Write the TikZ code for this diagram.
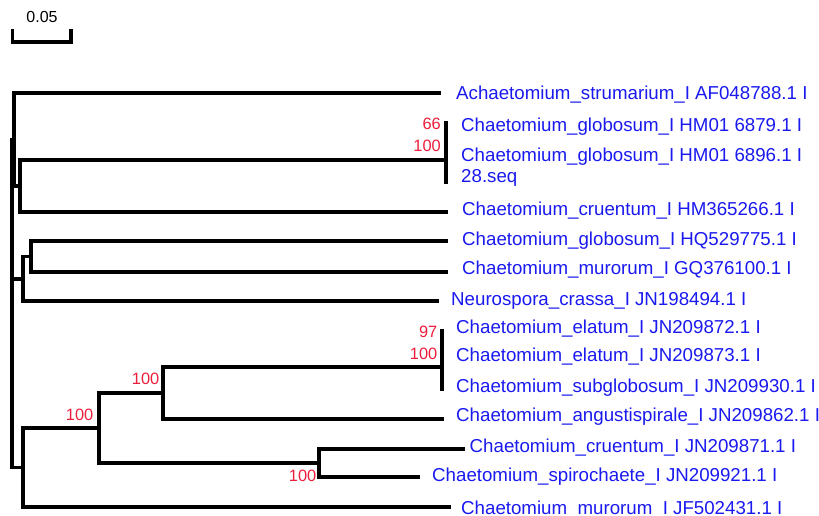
\documentclass[tikz,border=0pt]{standalone}
\usepackage{fontspec}
\setmainfont{Liberation Sans}
\definecolor{taxonblue}{RGB}{25,25,240}
\definecolor{bootred}{RGB}{235,30,60}

\begin{document}
\begin{tikzpicture}[line cap=rect,line join=miter,x=1pt,y=-1pt,
		branch/.style={line width=3.3pt},
		taxon/.style={anchor=base west,inner sep=0pt,text=taxonblue,font=\fontsize{18.7}{20}\selectfont},
		boot/.style={anchor=base east,inner sep=0pt,text=bootred,font=\fontsize{16.4}{18}\selectfont}]
		\useasboundingbox (0,0) rectangle (819,515);
		\clip (0,0) rectangle (819,515);
		% scale bar
		\coordinate (sbL) at (12.7,42);
		\coordinate (sbR) at (71,42);
		\draw [branch] (sbL) ++(0,-11) -- (sbL) -- (sbR) -- ++(0,-11);
		\node [anchor=base,inner sep=0pt,font=\fontsize{16}{18}\selectfont] (sbText) at (42,22.7) {0.05};
		% internal nodes
		\coordinate (n0) at (12,303.5);
		\coordinate (nA) at (14,139.5);
		\coordinate (nB) at (20,186);
		\coordinate (nC) at (23,279);
		\coordinate (nD) at (31,256.5);
		\coordinate (nE) at (23,467.5);
		\coordinate (nF) at (99,428);
		\coordinate (nG) at (163,393);
		\coordinate (nH) at (319,463);
		\coordinate (nHM) at (446,160);
		\coordinate (nEl) at (442,367);
		\coordinate (hmTop) at (446,123);
		\coordinate (hmBot) at (446,182);
		\coordinate (elTop) at (442,331);
		\coordinate (elBot) at (442,389);
		% branch tips
		\coordinate (tAch) at (439,93);
		\coordinate (tCru1) at (446,212);
		\coordinate (tGlo) at (446,241);
		\coordinate (tMur1) at (446,272);
		\coordinate (tNeu) at (437,301);
		\coordinate (tAng) at (442,419);
		\coordinate (tCru2) at (463,449);
		\coordinate (tSpi) at (418,477);
		\coordinate (tMur2) at (449,507);
		% branches
		\foreach \from/\to in {n0/nA,n0/nC,n0/nE,nA/tAch,nA/nB,nB/nHM,nB/tCru1,
			nC/nD,nC/tNeu,nD/tGlo,nD/tMur1,nE/nF,nE/tMur2,nF/nG,nF/nH,
			nG/nEl,nG/tAng,nH/tCru2,nH/tSpi}
			\draw [branch] (\from) |- (\to);
		\draw [branch] (hmTop) -- (hmBot);
		\draw [branch] (elTop) -- (elBot);
		% taxa
		\node [taxon] (lAch) at (456,99.5) {Achaetomium\_strumarium\_I AF048788.1 I};
		\node [taxon] (lHM1) at (461,131.7) {Chaetomium\_globosum\_I HM01 6879.1 I};
		\node [taxon] (lHM2) at (461,161.7) {Chaetomium\_globosum\_I HM01 6896.1 I};
		\node [taxon] (lSeq) at (461,182) {28.seq};
		\node [taxon] (lCru1) at (462,215.7) {Chaetomium\_cruentum\_I HM365266.1 I};
		\node [taxon] (lGlo) at (462,245) {Chaetomium\_globosum\_I HQ529775.1 I};
		\node [taxon] (lMur1) at (462,274.3) {Chaetomium\_murorum\_I GQ376100.1 I};
		\node [taxon] (lNeu) at (451,305) {Neurospora\_crassa\_I JN198494.1 I};
		\node [taxon] (lEl1) at (456,333.3) {Chaetomium\_elatum\_I JN209872.1 I};
		\node [taxon] (lEl2) at (456,361.7) {Chaetomium\_elatum\_I JN209873.1 I};
		\node [taxon] (lSub) at (456,392.3) {Chaetomium\_subglobosum\_I JN209930.1 I};
		\node [taxon] (lAng) at (456,421.7) {Chaetomium\_angustispirale\_I JN209862.1 I};
		\node [taxon] (lCru2) at (469.5,452.7) {Chaetomium\_cruentum\_I JN209871.1 I};
		\node [taxon] (lSpi) at (432,481.7) {Chaetomium\_spirochaete\_I JN209921.1 I};
		\node [taxon] (lMur2) at (461,514) {Chaetomium\_murorum\_I JF502431.1 I};
		% bootstrap values
		\node [boot] (b66) at (441,129.3) {66};
		\node [boot] (bHM) at (441,151) {100};
		\node [boot] (b97) at (437.5,337.3) {97};
		\node [boot] (bEl) at (437.5,359.3) {100};
		\node [boot] (bG) at (159.5,384) {100};
		\node [boot] (bF) at (93.5,420) {100};
		\node [boot] (bH) at (316.5,481.7) {100};
	\end{tikzpicture}
\end{document}
